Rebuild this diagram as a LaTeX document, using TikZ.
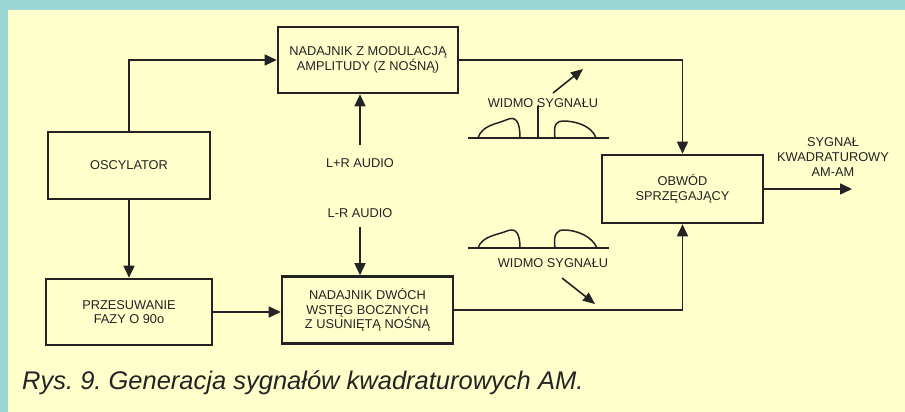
\documentclass[tikz,border=0pt]{standalone}
\usepackage{fontspec}
\setmainfont{Liberation Sans}
\usetikzlibrary{arrows.meta}
\definecolor{teal1}{RGB}{155,216,213}
\definecolor{cream}{RGB}{255,255,204}
\definecolor{ink}{RGB}{35,35,35}
\tikzset{
  blk/.style={draw=ink, line width=2.6pt, fill=cream, align=center, text=ink,
    font=\fontsize{12.8}{14.6}\selectfont, inner sep=0pt},
  lbl/.style={text=ink, align=center, font=\fontsize{12.8}{14.6}\selectfont, inner sep=0pt},
  conn/.style={draw=ink, line width=1.6pt, -{Triangle[length=12pt,width=11pt]}},
  plain/.style={draw=ink, line width=1.6pt},
  spec/.style={draw=ink, line width=1.5pt, line join=round}
}
\frenchspacing
\begin{document}
\begin{tikzpicture}[x=1pt,y=-1pt]
\useasboundingbox (0,0) rectangle (905,412);
\fill[teal1] (0,0) rectangle (905,412);
\fill[cream] (8,10) rectangle (905,412);

% blocks
\node[blk, minimum width=180pt, minimum height=66pt] (am) at (368,60) {NADAJNIK Z MODULACJĄ\\AMPLITUDY (Z NOŚNĄ)};
\node[blk, minimum width=162pt, minimum height=67pt] (osc) at (129,165.5) {OSCYLATOR};
\node[blk, minimum width=166pt, minimum height=66pt] (faz) at (129,312) {PRZESUWANIE\\FAZY O 90o};
\node[blk, minimum width=171pt, minimum height=67pt] (dsb) at (367.5,310) {NADAJNIK DWÓCH\\WSTĘG BOCZNYCH\\Z USUNIĘTĄ NOŚNĄ};
\node[blk, minimum width=161pt, minimum height=68pt] (obw) at (682.5,189) {OBWÓD\\SPRZĘGAJĄCY};

% labels
\node[lbl] (lpr) at (360,163) {L+R AUDIO};
\node[lbl] (lmr) at (360,213) {L-R AUDIO};
\node[lbl] (out) at (833,157) {SYGNAŁ\\KWADRATUROWY\\AM-AM};
\node[lbl] (w1) at (543,103) {WIDMO SYGNAŁU};
\node[lbl] (w2) at (553,263) {WIDMO SYGNAŁU};

% connectors
\draw[conn] (osc.north) |- (am.west);
\draw[conn] (osc.south) -- (faz.north);
\draw[conn] (faz.east) -- (faz.east -| dsb.west);
\draw[conn] ([yshift=13pt]lpr.north) -- (lpr.north |- am.south);
\draw[conn] ([yshift=-9pt]lmr.south) -- (lmr.south |- dsb.north);
\draw[conn] (am.east) -| (obw.north);
\draw[conn] (dsb.east) -| (obw.south);
\coordinate (outend) at (852,189);
\draw[conn] (obw.east) -- (outend);

% spectrum arrows
\coordinate (a1s) at (553,93); \coordinate (a1e) at (583,69);
\draw[conn, -{Triangle[length=12pt,width=10pt]}] (a1s) -- (a1e);
\coordinate (a2s) at (562,278); \coordinate (a2e) at (595,304);
\draw[conn, -{Triangle[length=12pt,width=10pt]}] (a2s) -- (a2e);

% upper spectrum
\draw[plain] (468,138) -- (609,138);
\draw[plain] (538,138) -- (538,106);
\draw[spec] (478,138) .. controls (482,125) and (497,124) .. (506,120)
  .. controls (516,115) and (520,122) .. (520,138);
\draw[spec] (555,138) .. controls (553,124) and (557,121) .. (563,121)
  .. controls (576,121) and (592,126) .. (596,138);

% lower spectrum
\draw[plain] (468,248) -- (609,248);
\draw[spec] (478,248) .. controls (482,236) and (497,235) .. (507,231)
  .. controls (516,227) and (520,234) .. (520,248);
\draw[spec] (555,248) .. controls (553,234) and (557,230) .. (564,230)
  .. controls (576,230) and (592,236) .. (597,248);

% caption
\node[anchor=west, text=ink, inner sep=0pt, font=\fontsize{25.5}{28}\selectfont\itshape] (cap) at (22,383) {Rys. 9. Generacja sygnałów kwadraturowych AM.};
\end{tikzpicture}
\end{document}
